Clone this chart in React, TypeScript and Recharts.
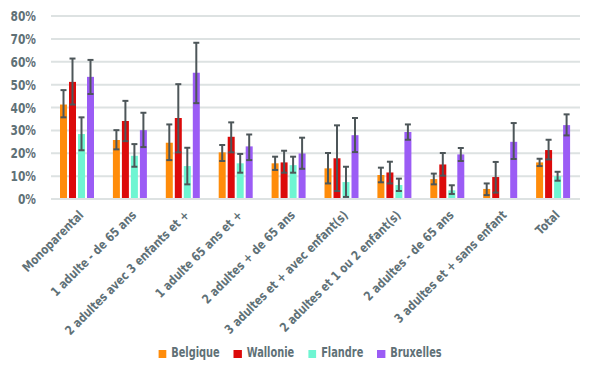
import {
  Bar,
  BarChart,
  CartesianGrid,
  ErrorBar,
  Legend,
  XAxis,
  YAxis,
} from "recharts";

// Household types (x categories)
const categories = [
  "Monoparental",
  "1 adulte - de 65 ans",
  "2 adultes avec 3 enfants et +",
  "1 adulte 65 ans et +",
  "2 adultes + de 65 ans",
  "3 adultes et + avec enfant(s)",
  "2 adultes et 1 ou 2 enfant(s)",
  "2 adultes - de 65 ans",
  "3 adultes et + sans enfant",
  "Total",
];

// Point estimates (%) and confidence interval bounds (%)
const belgique = [41.3, 25.8, 24.6, 20.4, 15.6, 13.4, 10.5, 8.7, 4.4, 16.0];
const belgiqueLow = [35.7, 21.7, 17.0, 16.6, 12.7, 6.8, 7.3, 6.4, 1.7, 14.4];
const belgiqueHigh = [47.6, 30.1, 32.6, 23.6, 18.5, 20.1, 13.7, 11.1, 6.8, 17.6];

const wallonie = [51.2, 34.1, 35.4, 27.2, 16.0, 17.8, 11.6, 15.1, 9.6, 21.4];
const wallonieLow = [41.3, 25.3, 20.4, 20.4, 11.5, 3.5, 6.8, 10.2, 2.8, 17.3];
const wallonieHigh = [61.4, 42.9, 50.2, 33.5, 21.1, 32.2, 16.3, 20.1, 16.2, 25.9];

const flandre = [28.4, 18.9, 14.4, 15.6, 14.8, 7.4, 6.1, 3.8, null, 10.0];
const flandreLow = [21.3, 14.1, 6.4, 11.5, 11.5, 0.9, 3.5, 2.2, null, 8.0];
const flandreHigh = [35.7, 24.0, 22.4, 19.7, 18.5, 14.1, 8.9, 6.0, null, 11.9];

const bruxelles = [53.4, 30.1, 55.2, 23.0, 19.9, 27.9, 29.3, 19.5, 25.0, 32.3];
const bruxellesLow = [45.9, 22.7, 41.9, 17.0, 13.2, 20.5, 25.9, 16.6, 17.5, 27.8];
const bruxellesHigh = [60.8, 37.7, 68.3, 28.2, 26.8, 35.4, 32.6, 22.3, 33.2, 37.0];

const yTicks = [0, 10, 20, 30, 40, 50, 60, 70, 80];

// no condensed face installed, so bold DejaVu gets squeezed horizontally
const FONT = "'DejaVu Sans', sans-serif";
const SQUEEZE = 0.76;
const LEGEND_SQUEEZE = 0.7;
const TEXT = "#5f7177";
const GRID = "#dde2e2";
const ERR = "#4d5659";

const series = [
  { key: "belgique", name: "Belgique", color: "#ff8c0a", v: belgique, lo: belgiqueLow, hi: belgiqueHigh },
  { key: "wallonie", name: "Wallonie", color: "#dc0a0a", v: wallonie, lo: wallonieLow, hi: wallonieHigh },
  { key: "flandre", name: "Flandre", color: "#6ff5d2", v: flandre, lo: flandreLow, hi: flandreHigh },
  { key: "bruxelles", name: "Bruxelles", color: "#9b5cf5", v: bruxelles, lo: bruxellesLow, hi: bruxellesHigh },
];

const data = categories.map((name, i) => {
  const row: Record<string, unknown> = { name };
  series.forEach((s) => {
    const v = s.v[i];
    row[s.key] = v;
    row[s.key + "Err"] =
      v == null || s.lo[i] == null || s.hi[i] == null
        ? null
        : [v - (s.lo[i] as number), (s.hi[i] as number) - v];
  });
  return row;
});

function XTick(props: any) {
  const { x, y, payload } = props;
  return (
    <g transform={`translate(${x + 4},${y + 6})`}>
      <text
        textAnchor="end"
        transform={`rotate(-45) scale(0.82,1)`}
        fontFamily={FONT}
        fontWeight="bold"
        fontSize={12.5}
        fill={TEXT}
        dy={4}
      >
        {payload.value}
      </text>
    </g>
  );
}

function YTick(props: any) {
  const { x, y, payload } = props;
  return (
    <g transform={`translate(${x - 7},${y})`}>
      <text
        textAnchor="end"
        transform={`scale(${SQUEEZE},1)`}
        fontFamily={FONT}
        fontWeight="bold"
        fontSize={14}
        fill={TEXT}
        dy={5}
      >
        {`${payload.value}%`}
      </text>
    </g>
  );
}

function LegendContent() {
  return (
    <div
      style={{
        display: "flex",
        justifyContent: "center",
        gap: 20,
        fontFamily: FONT,
        fontWeight: "bold",
        fontSize: 14,
        color: TEXT,
        transform: `translateX(10px) scaleX(${LEGEND_SQUEEZE})`,
        transformOrigin: "center",
      }}
    >
      {series.map((s) => (
        <div key={s.key} style={{ display: "flex", alignItems: "center", gap: 7 }}>
          <span style={{ width: 11.5, height: 8, background: s.color, display: "inline-block", marginTop: 3 }} />
          <span>{s.name}</span>
        </div>
      ))}
    </div>
  );
}

export default function App() {
  return (
    <div style={{ position: "absolute", left: 0, top: 0, width: 590, height: 376, background: "#fff" }}>
      <BarChart
        width={590}
        height={376}
        data={data}
        margin={{ top: 16, right: 10, bottom: 2, left: 0 }}
        barSize={7}
        barGap={2}
      >
        <CartesianGrid vertical={false} stroke={GRID} strokeWidth={2} />
        <XAxis
          dataKey="name"
          interval={0}
          tickLine={false}
          axisLine={{ stroke: GRID, strokeWidth: 2 }}
          height={145}
          tick={<XTick />}
        />
        <YAxis
          width={51}
          domain={[0, 80]}
          ticks={yTicks}
          interval={0}
          axisLine={false}
          tickLine={false}
          tick={<YTick />}
        />
        <Legend verticalAlign="bottom" height={30} content={<LegendContent />} />
        {series.map((s) => (
          <Bar key={s.key} dataKey={s.key} name={s.name} fill={s.color} isAnimationActive={false}>
            <ErrorBar dataKey={s.key + "Err"} stroke={ERR} strokeWidth={2} width={3} />
          </Bar>
        ))}
      </BarChart>
    </div>
  );
}
